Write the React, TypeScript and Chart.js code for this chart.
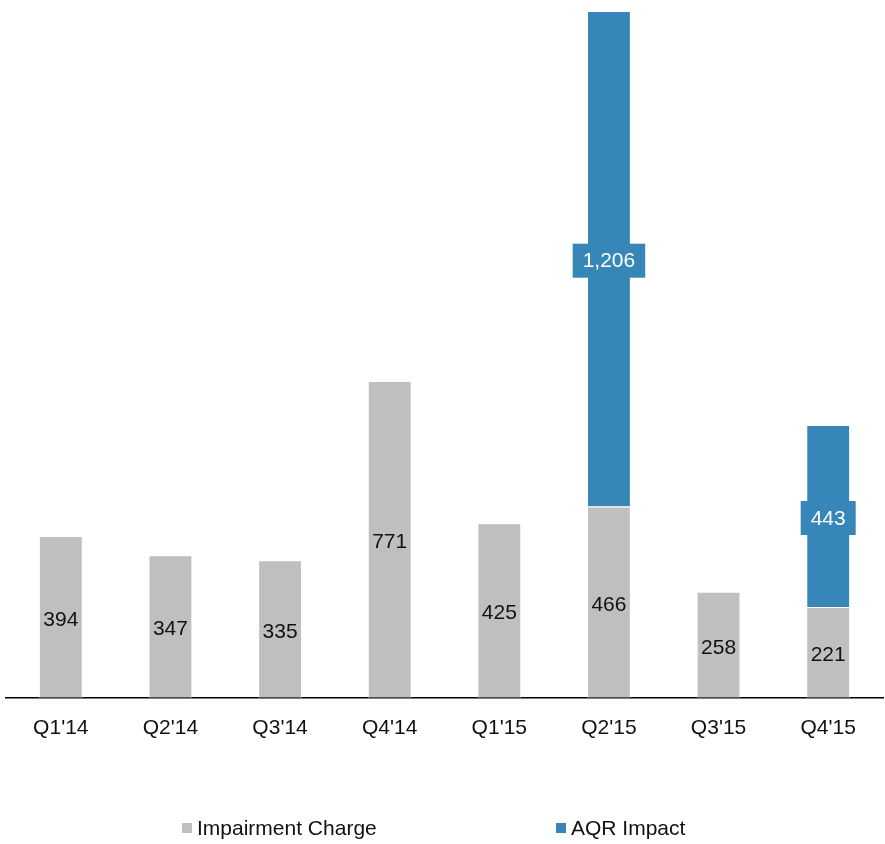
import React, { useEffect, useRef } from "react";
import { Chart, registerables } from "chart.js";

Chart.register(...registerables);

const categories = ["Q1'14", "Q2'14", "Q3'14", "Q4'14", "Q1'15", "Q2'15", "Q3'15", "Q4'15"];
const impairmentCharge = [394, 347, 335, 771, 425, 466, 258, 221];
const aqrImpact: (number | null)[] = [null, null, null, null, null, 1206, null, 443];
const seriesNames = ["Impairment Charge", "AQR Impact"];

const GRAY = "#BFBFBF";
const BLUE = "#3786B8";
const FONT = "'Liberation Sans', Arial, sans-serif";
const FS = 21;

const fmt = (v: number) => v.toLocaleString("en-US");

const labelPlugin = {
  id: "valueLabels",
  afterDatasetsDraw(chart: any) {
    const ctx = chart.ctx;
    ctx.save();
    ctx.font = `${FS}px ${FONT}`;
    ctx.textAlign = "center";
    ctx.textBaseline = "middle";
    chart.data.datasets.forEach((ds: any, di: number) => {
      const meta = chart.getDatasetMeta(di);
      meta.data.forEach((bar: any, i: number) => {
        const v = ds.data[i];
        if (v == null || v === 0) return;
        const x = bar.x;
        const y = (bar.y + bar.base) / 2 + 2;
        const text = fmt(v);
        if (di === 1) {
          const w = ctx.measureText(text).width + 20;
          const h = 34;
          ctx.fillStyle = BLUE;
          ctx.fillRect(x - w / 2, y - h / 2, w, h);
          ctx.fillStyle = "#ffffff";
          ctx.fillText(text, x, y + 1);
        } else {
          ctx.fillStyle = "#111111";
          ctx.fillText(text, x, y + 1);
        }
      });
    });
    ctx.restore();
  },
};

const legendPlugin = {
  id: "customLegend",
  afterDraw(chart: any) {
    const ctx = chart.ctx;
    ctx.save();
    ctx.font = `${FS}px ${FONT}`;
    ctx.textBaseline = "middle";
    ctx.textAlign = "left";
    const y = 828;
    const xs = [182, 556];
    chart.data.datasets.forEach((ds: any, di: number) => {
      const x = xs[di];
      ctx.fillStyle = ds.backgroundColor;
      ctx.fillRect(x, y - 5, 10, 10);
      ctx.fillStyle = "#111111";
      ctx.fillText(ds.label, x + 15, y + 1);
    });
    ctx.restore();
  },
};

export default function App() {
  const ref = useRef<HTMLCanvasElement>(null);
  useEffect(() => {
    if (!ref.current) return;
    const chart = new Chart(ref.current, {
      type: "bar",
      data: {
        labels: categories,
        datasets: [
          {
            label: seriesNames[0],
            data: impairmentCharge,
            backgroundColor: GRAY,
            borderColor: "#ffffff",
            borderWidth: 1,
            barPercentage: 0.4,
            categoryPercentage: 1,
          },
          {
            label: seriesNames[1],
            data: aqrImpact,
            backgroundColor: BLUE,
            borderColor: "#ffffff",
            borderWidth: 1,
            barPercentage: 0.4,
            categoryPercentage: 1,
          },
        ],
      },
      options: {
        animation: false,
        responsive: false,
        maintainAspectRatio: false,
        layout: { padding: { left: 6, right: 2, top: 11, bottom: 85 } },
        plugins: {
          legend: { display: false },
          tooltip: { enabled: false },
        },
        scales: {
          x: {
            stacked: true,
            grid: { display: false, drawTicks: false },
            border: { display: true, color: "#000000", width: 1.5 },
            ticks: {
              color: "#111111",
              font: { family: FONT, size: FS },
              padding: 18,
              maxRotation: 0,
            },
          },
          y: {
            stacked: true,
            display: false,
            min: 0,
            max: 1672,
          },
        },
      },
      plugins: [labelPlugin, legendPlugin],
    });
    return () => chart.destroy();
  }, []);
  return (
    <div style={{ position: "absolute", left: 0, top: 0, width: 885, height: 844 }}>
      <canvas ref={ref} width={885} height={844} style={{ display: "block" }} />
    </div>
  );
}
